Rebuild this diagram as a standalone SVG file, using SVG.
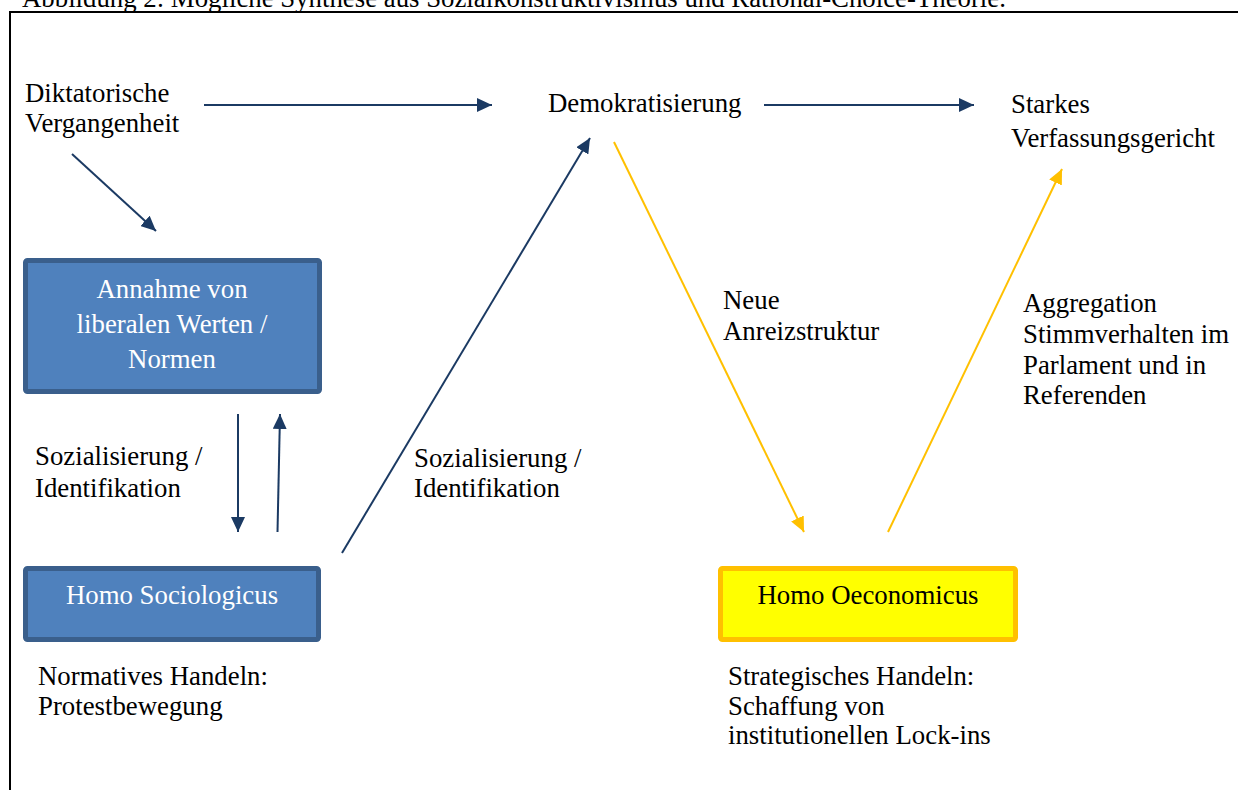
<svg xmlns="http://www.w3.org/2000/svg" width="1238" height="790" viewBox="0 0 1238 790">
  <style>
    text { font-family: "Liberation Serif", "Times New Roman", serif; font-size: 26.8px; fill: #000; }
    .light { fill: #fff; }
    .mid { text-anchor: middle; }
    .blue { fill: #4F81BD; stroke: #3A5F8C; stroke-width: 5; }
    .yellow { fill: #FFFF00; stroke: #FFC000; stroke-width: 5; }
    .navy { stroke: #1B3A63; stroke-width: 2; fill: none; marker-end: url(#headNavy); }
    .gold { stroke: #FFC000; stroke-width: 2; fill: none; marker-end: url(#headGold); }
  </style>
  <defs>
    <marker id="headNavy" markerUnits="userSpaceOnUse" markerWidth="15" markerHeight="14" refX="15" refY="7" orient="auto">
      <path d="M0,0 L15,7 L0,14 z" fill="#1B3A63"/>
    </marker>
    <marker id="headGold" markerUnits="userSpaceOnUse" markerWidth="15" markerHeight="14" refX="15" refY="7" orient="auto">
      <path d="M0,0 L15,7 L0,14 z" fill="#FFC000"/>
    </marker>
  </defs>

  <rect width="1238" height="790" fill="#fff"/>

  <!-- caption (runs off the top edge) and frame -->
  <text x="22" y="7">Abbildung 2: Mögliche Synthese aus Sozialkonstruktivismus und Rational-Choice-Theorie.</text>
  <path d="M10,790 V12 H1238" fill="none" stroke="#000" stroke-width="2"/>

  <!-- connectors -->
  <g id="connectors">
    <line class="navy" x1="204" y1="105" x2="492" y2="105"/>
    <line class="navy" x1="764" y1="105" x2="974" y2="105"/>
    <line class="navy" x1="72" y1="154" x2="156" y2="231"/>
    <line class="navy" x1="238" y1="414" x2="238" y2="532"/>
    <line class="navy" x1="277.5" y1="532" x2="280" y2="414"/>
    <line class="navy" x1="342" y1="553" x2="590" y2="138"/>
    <line class="gold" x1="614" y1="142" x2="804" y2="532"/>
    <line class="gold" x1="888" y1="532" x2="1062" y2="169"/>
  </g>

  <g id="diktatur">
    <text x="25" y="102">Diktatorische</text>
    <text x="25" y="132">Vergangenheit</text>
  </g>

  <g id="demokratisierung">
    <text x="548" y="112">Demokratisierung</text>
  </g>

  <g id="verfassungsgericht">
    <text x="1011" y="113">Starkes</text>
    <text x="1011" y="147">Verfassungsgericht</text>
  </g>

  <g id="werte">
    <rect class="blue" x="25.5" y="260.5" width="294" height="131" rx="2"/>
    <text class="light mid" x="172" y="298">Annahme von</text>
    <text class="light mid" x="172" y="333">liberalen Werten /</text>
    <text class="light mid" x="172" y="368">Normen</text>
  </g>

  <g id="sozialisierung-links">
    <text x="35" y="465">Sozialisierung /</text>
    <text x="35" y="497">Identifikation</text>
  </g>

  <g id="sozialisierung-mitte">
    <text x="414" y="467">Sozialisierung /</text>
    <text x="414" y="497">Identifikation</text>
  </g>

  <g id="anreiz">
    <text x="723" y="309">Neue</text>
    <text x="723" y="340">Anreizstruktur</text>
  </g>

  <g id="aggregation">
    <text x="1023" y="312">Aggregation</text>
    <text x="1023" y="343">Stimmverhalten im</text>
    <text x="1023" y="374">Parlament und in</text>
    <text x="1023" y="404">Referenden</text>
  </g>

  <g id="homo-sociologicus">
    <rect class="blue" x="25.5" y="568.5" width="293" height="71" rx="2"/>
    <text class="light mid" x="172" y="604">Homo Sociologicus</text>
  </g>

  <g id="homo-oeconomicus">
    <rect class="yellow" x="720.5" y="568.5" width="295" height="71" rx="2"/>
    <text class="mid" x="868" y="604">Homo Oeconomicus</text>
  </g>

  <g id="normativ">
    <text x="38" y="685">Normatives Handeln:</text>
    <text x="38" y="715">Protestbewegung</text>
  </g>

  <g id="strategisch">
    <text x="728" y="685">Strategisches Handeln:</text>
    <text x="728" y="715">Schaffung von</text>
    <text x="728" y="744">institutionellen Lock-ins</text>
  </g>
</svg>
